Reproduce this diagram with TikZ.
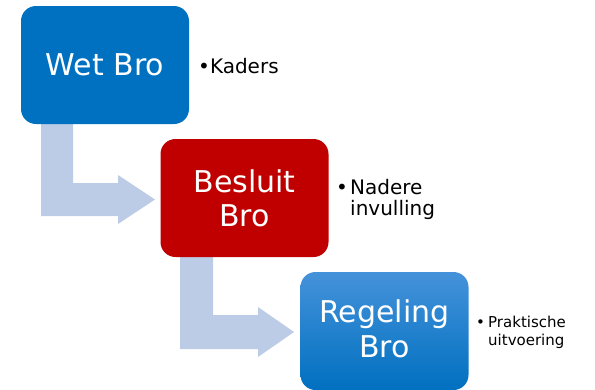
\documentclass[tikz,border=0pt]{standalone}
\usepackage{fontspec}
\setmainfont{DejaVu Sans}
\definecolor{boxblue}{HTML}{0070C0}
\definecolor{boxred}{HTML}{C00000}
\definecolor{boxlight}{HTML}{4592DA}
\definecolor{arrowfill}{HTML}{BCCCE6}
\begin{document}
\begin{tikzpicture}[x=1pt,y=-1pt,
  stepbox/.style={rounded corners=15pt, minimum width=168pt, minimum height=118pt,
    inner sep=0pt, text=white, align=center, font=\fontsize{30}{34}\selectfont},
  bent/.style={fill=arrowfill, draw=none},
  note/.style={anchor=base west, inner sep=0pt, text=black},
  bignote/.style={note, font=\fontsize{20}{21.5}\selectfont},
  smallnote/.style={note, font=\fontsize{15}{18}\selectfont}]
\useasboundingbox (0,0) rectangle (595,389);
% arrows (behind boxes)
\fill[bent] (41,120) -- (73,120) -- (73,183) -- (118,183) -- (118,175) -- (155,199.5)
  -- (118,224) -- (118,216) -- (41,216) -- cycle;
\fill[bent] (180,252) -- (213,252) -- (213,315) -- (258,315) -- (258,307) -- (294,332)
  -- (258,357) -- (258,349) -- (180,349) -- cycle;
% boxes
\node[stepbox, fill=boxblue] (wet) at (105,65) {Wet Bro};
\node[stepbox, fill=boxred] (besluit) at (244.5,198) {Besluit\\Bro};
\node[stepbox, top color=boxlight, bottom color=boxblue] (regeling) at (384.5,331) {};
\node[text=white, align=center, inner sep=0pt, font=\fontsize{30}{35}\selectfont] (regtext) at (384.5,328.5) {Regeling\\Bro};
% notes
\node[bignote] (kaders) at (198,73) {•Kaders};
\node[bignote] (nadb) at (336,194) {•};
\node[bignote] (nad1) at (350,194) {Nadere};
\node[bignote] (nad2) at (350,215.5) {invulling};
\node[smallnote] (prakb) at (476,327) {•};
\node[smallnote] (prak1) at (488,327) {Praktische};
\node[smallnote] (prak2) at (488,345) {uitvoering};
\end{tikzpicture}
\end{document}
